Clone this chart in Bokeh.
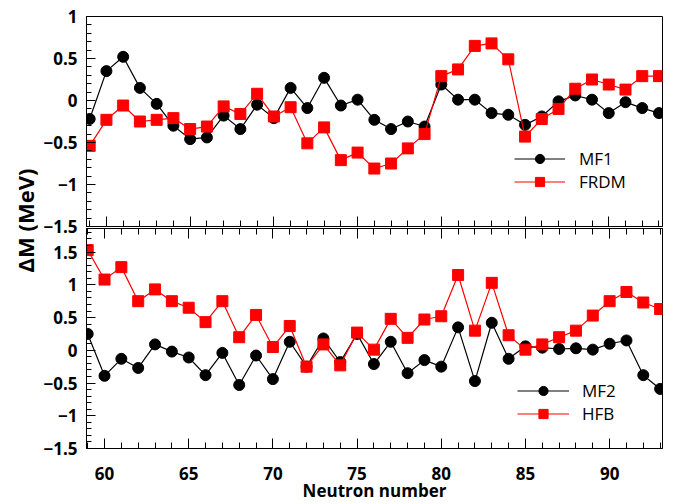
import numpy as np
from bokeh.plotting import figure
from bokeh.models import Range1d, LinearAxis, FixedTicker, Legend, LegendItem, Label
from bokeh.layouts import row, column
from bokeh.embed import file_html
from bokeh.resources import INLINE

# ---------------- data ----------------
neutron_number = list(range(59, 94))

mf1 = [-0.22, 0.35, 0.52, 0.15, -0.04, -0.30, -0.46, -0.44, -0.18, -0.34,
       -0.05, -0.21, 0.15, -0.09, 0.27, -0.06, 0.01, -0.23, -0.34, -0.25,
       -0.31, 0.19, 0.01, 0.01, -0.15, -0.17, -0.29, -0.19, -0.01, 0.06,
       0.01, -0.15, -0.02, -0.09, -0.15]
frdm = [-0.54, -0.23, -0.06, -0.25, -0.23, -0.21, -0.34, -0.31, -0.07, -0.16,
        0.08, -0.19, -0.08, -0.51, -0.32, -0.71, -0.62, -0.81, -0.75, -0.57,
        -0.40, 0.29, 0.37, 0.65, 0.68, 0.49, -0.43, -0.22, -0.10, 0.14,
        0.25, 0.19, 0.13, 0.29, 0.29]
mf2 = [0.25, -0.39, -0.13, -0.27, 0.09, -0.02, -0.11, -0.38, -0.04, -0.53,
       -0.08, -0.44, 0.13, -0.25, 0.18, -0.18, 0.25, -0.21, 0.13, -0.35,
       -0.15, -0.25, 0.35, -0.47, 0.42, -0.13, 0.06, 0.04, 0.02, 0.03,
       0.01, 0.10, 0.15, -0.38, -0.59]
hfb = [1.53, 1.08, 1.27, 0.75, 0.93, 0.75, 0.65, 0.43, 0.75, 0.20,
       0.54, 0.05, 0.37, -0.25, 0.09, -0.23, 0.27, 0.01, 0.48, 0.19,
       0.47, 0.52, 1.15, 0.30, 1.03, 0.23, 0.01, 0.09, 0.20, 0.30,
       0.53, 0.75, 0.89, 0.73, 0.63]

x_ticks = [60, 65, 70, 75, 80, 85, 90]
x_tick_labels = ["60", "65", "70", "75", "80", "85", "90"]
top_y_ticks = [-1.5, -1.0, -0.5, 0.0, 0.5, 1.0]
top_y_labels = ["\u22121.5", "\u22121", "\u22120.5", "0", "0.5", "1"]
bot_y_ticks = [-1.5, -1.0, -0.5, 0.0, 0.5, 1.0, 1.5]
bot_y_labels = ["\u22121.5", "\u22121", "\u22120.5", "0", "0.5", "1", "1.5"]

x_label = "Neutron number"
y_label = "\u0394M (MeV)"

FONT = "Open Sans"
RED = "#ff0000"


def minor(a, b, step):
    return [round(v, 3) for v in np.arange(a, b + step / 2, step)]


def style_axis(ax, tick_in, minor_in):
    ax.axis_line_color = "black"
    ax.axis_line_width = 1
    ax.major_tick_line_color = "black"
    ax.minor_tick_line_color = "black"
    ax.major_tick_in = tick_in
    ax.major_tick_out = 0
    ax.minor_tick_in = minor_in
    ax.minor_tick_out = 0
    ax.major_label_text_font = FONT
    ax.major_label_text_font_style = "bold"
    ax.major_label_text_font_size = "17px"
    ax.major_label_text_color = "black"


def make_panel(xr, yr, width, height, borders, yticks, ylabels):
    l, r, t, b = borders
    p = figure(width=width, height=height, x_range=Range1d(*xr), y_range=Range1d(*yr),
               output_backend="svg", toolbar_location=None,
               x_axis_location=None, y_axis_location=None,
               min_border_left=l, min_border_right=r, min_border_top=t, min_border_bottom=b,
               outline_line_color="black", outline_line_width=1,
               background_fill_color="white", border_fill_alpha=0)
    p.xgrid.visible = False
    p.ygrid.visible = False
    yax = LinearAxis(ticker=FixedTicker(ticks=yticks, minor_ticks=minor(yr[0], yr[1], 0.1)),
                     major_label_overrides=dict(zip(yticks, ylabels)))
    style_axis(yax, 9, 5)
    yax.major_label_standoff = 9
    p.add_layout(yax, "left")
    return p


def unlabeled_x_ticks(p, side):
    # ticks only (no labels): a short-tick axis for every neutron number
    # and a long-tick axis for the labelled positions
    a = LinearAxis(ticker=FixedTicker(ticks=[], minor_ticks=list(range(59, 94))))
    style_axis(a, 10, 6)
    b = LinearAxis(ticker=FixedTicker(ticks=[], minor_ticks=x_ticks))
    style_axis(b, 10, 10)
    b.axis_line_color = None
    p.add_layout(a, side)
    p.add_layout(b, side)


def add_series(p, xs, ya, yb, la, lb, loc, gw, standoff):
    l1 = p.line(xs, ya, line_color="black", line_width=1.2)
    s1 = p.scatter(xs, ya, marker="circle", size=11, fill_color="black", line_color="black")
    l2 = p.line(xs, yb, line_color=RED, line_width=1.2)
    s2 = p.scatter(xs, yb, marker="square", size=11, fill_color=RED, line_color=RED)
    leg = Legend(items=[LegendItem(label=la, renderers=[l1, s1]),
                        LegendItem(label=lb, renderers=[l2, s2])],
                 location=loc, orientation="vertical",
                 border_line_color=None, background_fill_alpha=0,
                 padding=0, margin=0, spacing=0,
                 glyph_width=gw, glyph_height=23, label_height=23,
                 label_standoff=standoff,
                 label_text_font=FONT, label_text_font_size="17px",
                 label_text_color="black")
    p.add_layout(leg)


# ---------------- top panel (frame 84..663 x 16..226) ----------------
top = make_panel((58.81, 93.21), (-1.5, 1.0), 627, 240, (46, 2, 16, 14),
                 top_y_ticks, top_y_labels)
unlabeled_x_ticks(top, "below")
add_series(top, neutron_number, mf1, frdm, "MF1", "FRDM", (428, 33), 51, 14)

# ---------------- bottom panel (frame 86..662 x 228..448) ----------------
bot = make_panel((58.93, 93.14), (-1.5, 1.86), 627, 278, (48, 3, 2, 56),
                 bot_y_ticks, bot_y_labels)
bot.margin = (-14, 0, 0, 0)
unlabeled_x_ticks(bot, "above")
xb = LinearAxis(ticker=FixedTicker(ticks=x_ticks, minor_ticks=list(range(59, 94))),
                major_label_overrides=dict(zip(x_ticks, x_tick_labels)))
style_axis(xb, 10, 6)
xb.major_label_standoff = 18
xb.axis_label = x_label
xb.axis_label_text_font = FONT
xb.axis_label_text_font_style = "bold"
xb.axis_label_text_font_size = "17px"
xb.axis_label_text_color = "black"
xb.axis_label_standoff = -4
bot.add_layout(xb, "below")
add_series(bot, neutron_number, mf2, hfb, "MF2", "HFB", (431, 23), 52, 13)

# ---------------- shared y label ----------------
lab = figure(width=38, height=504, x_range=Range1d(0, 38), y_range=Range1d(0, 504),
             output_backend="svg", toolbar_location=None,
             x_axis_location=None, y_axis_location=None, min_border=0,
             outline_line_color=None)
lab.xgrid.visible = False
lab.ygrid.visible = False
lab.add_layout(Label(x=24, y=284, text=y_label, angle=np.pi / 2,
                     text_align="center", text_baseline="middle",
                     text_font=FONT, text_font_style="bold",
                     text_font_size="22px", text_color="black"))

layout = row(lab, column(top, bot))

with open("out.html", "w") as f:
    f.write(file_html(layout, INLINE))
